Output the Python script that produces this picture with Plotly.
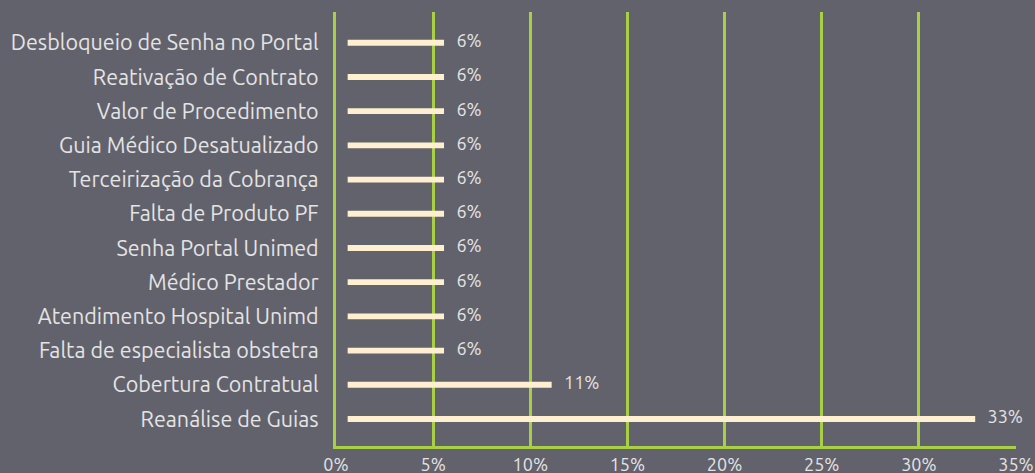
import plotly.graph_objects as go

categories = [
    "Reanálise de Guias",
    "Cobertura Contratual",
    "Falta de especialista obstetra",
    "Atendimento Hospital Unimd",
    "Médico Prestador",
    "Senha Portal Unimed",
    "Falta de Produto PF",
    "Terceirização da Cobrança",
    "Guia Médico Desatualizado",
    "Valor de Procedimento",
    "Reativação de Contrato",
    "Desbloqueio de Senha no Portal",
]
values = [32.9, 11.1, 5.56, 5.56, 5.56, 5.56, 5.56, 5.56, 5.56, 5.56, 5.56, 5.56]
labels = ["33%", "11%", "6%", "6%", "6%", "6%", "6%", "6%", "6%", "6%", "6%", "6%"]
tick_vals = [0, 5, 10, 15, 20, 25, 30, 35]
tick_text = ["0%", "5%", "10%", "15%", "20%", "25%", "30%", "35%"]

BAR_START = 0.6
BG = "#62626c"
GREEN = "#a8cf45"
BAR = "#fdefcf"
TXT = "#e4e4e4"
FONT = "Ubuntu Light, Ubuntu, Noto Sans, sans-serif"

ypos = list(range(len(categories)))

fig = go.Figure()
fig.add_trace(go.Bar(
    y=ypos,
    x=[v - BAR_START for v in values],
    base=BAR_START,
    orientation="h",
    width=0.17,
    marker=dict(color=BAR, line=dict(width=0)),
    hoverinfo="skip",
))
fig.add_trace(go.Scatter(
    y=ypos,
    x=values,
    mode="text",
    text=["   " + t for t in labels],
    textposition="middle right",
    textfont=dict(color=TXT, size=18, family=FONT),
    cliponaxis=False,
))

fig.update_layout(
    width=1035, height=473,
    margin=dict(l=336, r=19, t=12, b=27),
    paper_bgcolor=BG, plot_bgcolor=BG,
    showlegend=False,
    font=dict(family=FONT, color=TXT),
    xaxis=dict(
        range=[0, 35], tickvals=tick_vals, ticktext=tick_text,
        showgrid=True, gridcolor=GREEN, gridwidth=3,
        showline=True, linecolor=GREEN, linewidth=3,
        zeroline=False, ticks="", ticklen=0,
        tickfont=dict(size=18, color=TXT),
        automargin=False,
    ),
    yaxis=dict(
        range=[-0.79, 11.9],
        tickvals=ypos, ticktext=categories,
        showgrid=False, showline=True, linecolor=GREEN, linewidth=3,
        zeroline=False, ticks="", ticklen=0,
        ticklabelstandoff=10,
        tickfont=dict(size=21.5, color=TXT),
        automargin=False,
    ),
)

fig.write_html(
    "out.html",
    config={"displayModeBar": False},
    post_script="document.body.style.margin='0';document.body.style.background='%s';" % BG,
)
